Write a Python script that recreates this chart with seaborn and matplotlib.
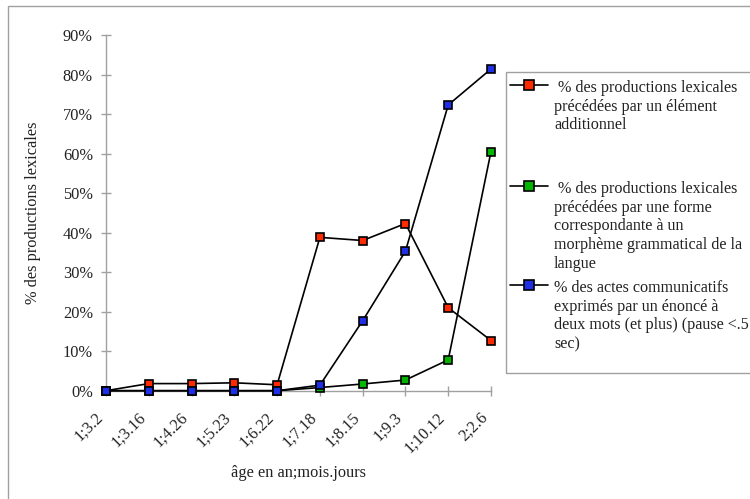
import matplotlib
matplotlib.use("Agg")
import matplotlib.pyplot as plt
import numpy as np
import pandas as pd
import seaborn as sns
from matplotlib.lines import Line2D
from matplotlib.patches import Rectangle

# ---- data ----
ages = ["1;3.2", "1;3.16", "1;4.26", "1;5.23", "1;6.22",
        "1;7.18", "1;8.15", "1;9.3", "1;10.12", "2;2.6"]
red_vals = [0, 1.8, 1.8, 2.0, 1.5, 38.8, 38.0, 42.3, 21.0, 12.7]
green_vals = [0, 0, 0, 0, 0, 0.8, 1.7, 2.7, 7.8, 60.5]
blue_vals = [0, 0, 0, 0, 0, 1.4, 17.7, 35.3, 72.3, 81.4]
yticks = [0, 10, 20, 30, 40, 50, 60, 70, 80, 90]
series_labels = [
    " % des productions lexicales\nprécédées par un élément\nadditionnel",
    " % des productions lexicales\nprécédées par une forme\ncorrespondante à un\nmorphème grammatical de la\nlangue",
    "% des actes communicatifs\nexprimés par un énoncé à\ndeux mots (et plus) (pause <.5\nsec)",
]
colors = ["#ff2a00", "#00b400", "#1f2fe6"]

sns.set_style("white")
plt.rcParams["font.family"] = ["Liberation Serif", "DejaVu Serif"]

W, H = 750, 499
fig = plt.figure(figsize=(7.5, 4.99), dpi=100)
fig.patch.set_facecolor("white")

def fx(px):
    return px / W

def fy(py):
    return 1 - py / H

ax = fig.add_axes([fx(106), fy(390.7), fx(491) - fx(106), fy(35) - fy(390.7)])
ax.set_facecolor("none")

df = pd.DataFrame({"pos": np.arange(len(ages)), "age": ages,
                   "red": red_vals, "green": green_vals, "blue": blue_vals})

for col, c in zip(["red", "green", "blue"], colors):
    sns.lineplot(data=df, x="pos", y=col, ax=ax, color="black", lw=1.2,
                 marker="s", markersize=6.3, markerfacecolor=c,
                 markeredgecolor="black", markeredgewidth=1.2,
                 clip_on=False, zorder=3)

ax.set_xlim(0, len(ages) - 1)
ax.set_ylim(0, 90)
ax.set_yticks(yticks)
ax.set_yticklabels([f"{v}%" for v in yticks], fontsize=11.8)
ax.set_xticks(np.arange(len(ages)))
ax.set_xticklabels(ages, fontsize=11.8, rotation=45, ha="right", va="top")

for s in ["top", "right"]:
    ax.spines[s].set_visible(False)
for s in ["left", "bottom"]:
    ax.spines[s].set_color("#a0a0a0")
    ax.spines[s].set_linewidth(1.0)
ax.tick_params(axis="both", which="major", left=True, bottom=True,
               direction="inout", length=7, width=1.0,
               color="#a0a0a0", labelcolor="#222222")
ax.tick_params(axis="y", pad=6)
ax.tick_params(axis="x", pad=10)

ax.set_xlabel("âge en an;mois.jours", fontsize=11.8, color="#222222")
ax.set_ylabel("% des productions lexicales", fontsize=11.8, color="#222222")
ax.xaxis.label.set_verticalalignment("center")
ax.xaxis.set_label_coords(0.5, -(473 - 390.7) / (390.7 - 35))
ax.yaxis.label.set_verticalalignment("center")
ax.yaxis.set_label_coords(-(106 - 33) / (491 - 106), 0.5)
ax.grid(False)

# outer frame
fig.add_artist(Rectangle((fx(8), -0.05), 1.2, fy(6) + 0.05,
                         transform=fig.transFigure, fill=False,
                         edgecolor="#a0a0a0", lw=1.0))

# legend box
fig.add_artist(Rectangle((fx(506), fy(373)), 1.2, fy(72) - fy(373),
                         transform=fig.transFigure, fill=False,
                         edgecolor="#a0a0a0", lw=1.0))

entry_y = [85, 186, 285]
for yy, lab, c in zip(entry_y, series_labels, colors):
    fig.add_artist(Line2D([fx(510), fx(529), fx(548)], [fy(yy)] * 3,
                          transform=fig.transFigure, color="black", lw=1.2,
                          marker="s", markevery=[1], markersize=6.6,
                          markerfacecolor=c, markeredgecolor="black",
                          markeredgewidth=1.2))
    fig.text(fx(554), fy(yy - 5), lab, ha="left", va="top", fontsize=11.6,
             linespacing=1.22, color="#222222")

fig.savefig("out.png", dpi=100, facecolor="white")
